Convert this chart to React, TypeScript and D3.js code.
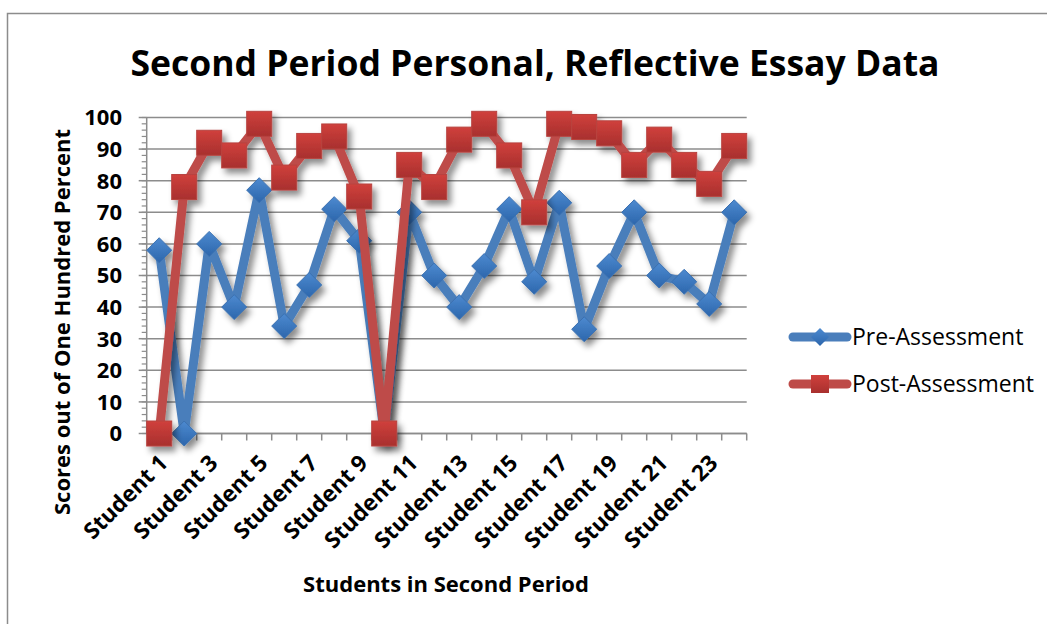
import React from "react";
import * as d3 from "d3";

const categories: string[] = Array.from({ length: 24 }, (_, i) => `Student ${i + 1}`);
const preAssessment: number[] = [58, 0, 60, 40, 77, 34, 47, 71, 61, 0, 70, 50, 40, 53, 71, 48, 73, 33, 53, 70, 50, 48, 41, 70];
const postAssessment: number[] = [0, 78, 92, 88, 98, 81, 91, 94, 75, 0, 85, 78, 93, 98, 88, 70, 98, 97, 95, 85, 93, 85, 79, 91];
const yTicks: number[] = [0, 10, 20, 30, 40, 50, 60, 70, 80, 90, 100];
const seriesNames: string[] = ["Pre-Assessment", "Post-Assessment"];

const W = 1047;
const H = 624;
const FONT = "'Open Sans', 'Liberation Sans', sans-serif";
const BLUE = "#4a7ebb";
const RED = "#be4b48";

export default function App() {
  const x = d3.scaleBand<string>().domain(categories).range([146.7, 746.7]).paddingInner(0).paddingOuter(0);
  const y = d3.scaleLinear().domain([0, 100]).range([433.5, 117.5]);
  const cx = (c: string) => (x(c) as number) + x.bandwidth() / 2;
  const line = d3
    .line<number>()
    .x((_, i) => cx(categories[i]))
    .y((d) => y(d));
  const minor = d3.range(0, 100.001, 2);
  const left = 146.7;
  const right = 746.7;
  const x0 = y(0);

  return (
    <svg width={W} height={H} style={{ position: "absolute", left: 0, top: 0, background: "#fff" }}>
      <defs>
        <filter id="sh" x="-30%" y="-30%" width="160%" height="160%">
          <feDropShadow dx="4" dy="5" stdDeviation="3" floodColor="#000" floodOpacity="0.45" />
        </filter>
        <linearGradient id="gRed" x1="0" y1="0" x2="0" y2="1">
          <stop offset="0" stopColor="#d0403c" />
          <stop offset="1" stopColor="#a8302e" />
        </linearGradient>
        <linearGradient id="gBlue" x1="0" y1="0" x2="0" y2="1">
          <stop offset="0" stopColor="#4d8ad0" />
          <stop offset="1" stopColor="#2c66ac" />
        </linearGradient>
      </defs>
      <rect x={7.5} y={13.5} width={W + 10} height={H + 10} fill="#fff" stroke="#8c8c8c" strokeWidth={1.5} />

      <text x={535} y={76} textAnchor="middle" fontFamily={FONT} fontWeight="bold" fontSize={35.5} fill="#000">
        Second Period Personal, Reflective Essay Data
      </text>

      {/* gridlines */}
      {yTicks.map((t) => (
        <line key={"g" + t} x1={left} x2={right} y1={y(t)} y2={y(t)} stroke="#8c8c8c" strokeWidth={1.5} />
      ))}
      {/* y axis */}
      <line x1={left} x2={left} y1={y(100)} y2={y(0)} stroke="#8c8c8c" strokeWidth={1.5} />
      {minor.map((t) => (
        <line key={"m" + t} x1={left - 5} x2={left} y1={y(t)} y2={y(t)} stroke="#8c8c8c" strokeWidth={1.2} />
      ))}
      {yTicks.map((t) => (
        <line key={"t" + t} x1={left - 8} x2={left} y1={y(t)} y2={y(t)} stroke="#8c8c8c" strokeWidth={1.5} />
      ))}
      {yTicks.map((t) => (
        <text key={"l" + t} x={122} y={y(t)} dy="0.36em" textAnchor="end" fontFamily={FONT} fontWeight="bold" fontSize={22} fill="#000">
          {t}
        </text>
      ))}
      {/* x axis */}
      <line x1={left} x2={right} y1={x0} y2={x0} stroke="#8c8c8c" strokeWidth={1.5} />
      {categories.map((c) => (
        <line key={"xt" + c} x1={(x(c) as number) + x.bandwidth()} x2={(x(c) as number) + x.bandwidth()} y1={x0} y2={x0 + 7} stroke="#8c8c8c" strokeWidth={1.5} />
      ))}
      {categories.map((c, i) =>
        i % 2 === 0 ? (
          <text
            key={"xl" + c}
            transform={`translate(${cx(c) - 2},${x0 + 19}) rotate(-45)`}
            textAnchor="end"
            dy="0.75em"
            fontFamily={FONT}
            fontWeight="bold"
            fontSize={22.5}
            fill="#000"
          >
            {c}
          </text>
        ) : null
      )}

      <text x={446} y={592} textAnchor="middle" fontFamily={FONT} fontWeight="bold" fontSize={22} fill="#000">
        Students in Second Period
      </text>
      <text transform="translate(62,322) rotate(-90)" textAnchor="middle" dy="0.35em" fontFamily={FONT} fontWeight="bold" fontSize={22} fill="#000">
        Scores out of One Hundred Percent
      </text>

      {/* series */}
      <g filter="url(#sh)">
        <path d={line(preAssessment) as string} fill="none" stroke={BLUE} strokeWidth={9} strokeLinejoin="round" strokeLinecap="round" />
        {preAssessment.map((v, i) => (
          <path
            key={"d" + i}
            d={`M${cx(categories[i])},${y(v) - 12.5}l12.5,12.5l-12.5,12.5l-12.5,-12.5z`}
            fill="url(#gBlue)"
            stroke="#3a70b0"
            strokeWidth={1}
          />
        ))}
      </g>
      <g filter="url(#sh)">
        <path d={line(postAssessment) as string} fill="none" stroke={RED} strokeWidth={9} strokeLinejoin="round" strokeLinecap="round" />
        {postAssessment.map((v, i) => (
          <rect
            key={"s" + i}
            x={cx(categories[i]) - 12.5}
            y={y(v) - 12.5}
            width={25}
            height={25}
            fill="url(#gRed)"
            stroke="#b84440"
            strokeWidth={1}
          />
        ))}
      </g>

      {/* legend */}
      {seriesNames.map((n, i) => {
        const ly = 337 + i * 47;
        return (
          <g key={n}>
            <line x1={793} x2={847} y1={ly} y2={ly} stroke={i === 0 ? BLUE : RED} strokeWidth={9} strokeLinecap="round" />
            {i === 0 ? (
              <path d={`M820,${ly - 9}l9,9l-9,9l-9,-9z`} fill="url(#gBlue)" />
            ) : (
              <rect x={811} y={ly - 9} width={18} height={18} fill="url(#gRed)" />
            )}
            <text x={852} y={ly} dy="0.36em" fontFamily={FONT} fontSize={23} fill="#000">
              {n}
            </text>
          </g>
        );
      })}
    </svg>
  );
}
